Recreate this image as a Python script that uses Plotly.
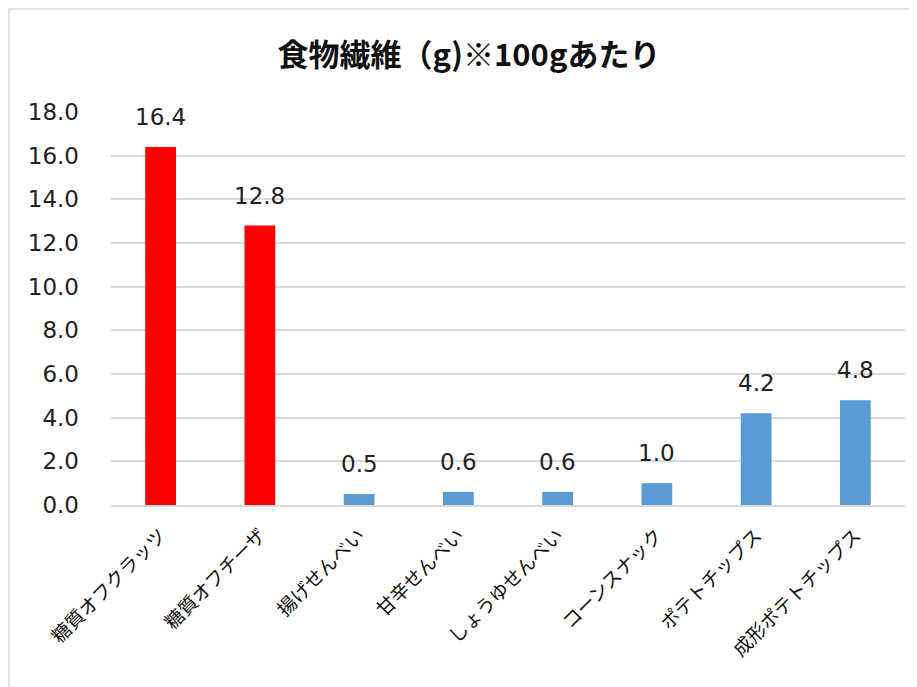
import plotly.graph_objects as go

categories = ["糖質オフクラッツ", "糖質オフチーザ", "揚げせんべい", "甘辛せんべい",
              "しょうゆせんべい", "コーンスナック", "ポテトチップス", "成形ポテトチップス"]
values = [16.4, 12.8, 0.5, 0.6, 0.6, 1.0, 4.2, 4.8]
bar_colors = ["#FF0000", "#FF0000", "#5B9BD5", "#5B9BD5", "#5B9BD5", "#5B9BD5", "#5B9BD5", "#5B9BD5"]
y_ticks = [0, 2, 4, 6, 8, 10, 12, 14, 16, 18]

W, H = 909, 679
L, R, T, B = 103, 12, 104, 182
pw, ph = W - L - R, H - T - B

fig = go.Figure()
fig.add_trace(go.Bar(
    x=categories, y=values,
    marker=dict(color=bar_colors, line=dict(width=0)),
    width=0.31,
    hoverinfo="x+y",
))

annotations = [
    dict(x=c, y=v, xref="x", yref="y", text=f"{v:.1f}", showarrow=False,
         yanchor="bottom", xanchor="center", yshift=15,
         font=dict(family="DejaVu Sans", size=23, color="#222222"))
    for c, v in zip(categories, values)
]

fig.update_layout(
    width=W, height=H,
    margin=dict(l=L, r=R, t=T, b=B, autoexpand=False),
    paper_bgcolor="white", plot_bgcolor="white",
    title=dict(text="<b>食物繊維（g)※100gあたり</b>", x=461 / W, xanchor="center",
               y=1 - 47 / H, yanchor="middle",
               font=dict(family="Noto Sans CJK JP", size=31, color="#111111")),
    showlegend=False,
    annotations=annotations,
    xaxis=dict(tickangle=-45, tickfont=dict(family="Noto Sans CJK JP", size=19, color="#111111"),
               showline=True, linecolor="#D9D9D9", linewidth=1.5, ticks="", showgrid=False,
               ticklabelstandoff=10),
    yaxis=dict(range=[0, 18], tickvals=y_ticks, ticktext=[f"{v:.1f}" for v in y_ticks],
               tickfont=dict(family="DejaVu Sans", size=23, color="#222222"),
               showgrid=True, gridcolor="#D9D9D9", gridwidth=1.5, zeroline=False,
               ticks="", ticklabelstandoff=31),
    shapes=[dict(type="rect", xref="paper", yref="paper",
                 x0=(1 - L) / pw, x1=1.3, y0=-0.8, y1=(T + ph - 1) / ph,
                 line=dict(color="#D9D9D9", width=1.5), fillcolor="rgba(0,0,0,0)", layer="below")],
)

fig.write_html("out.html")
